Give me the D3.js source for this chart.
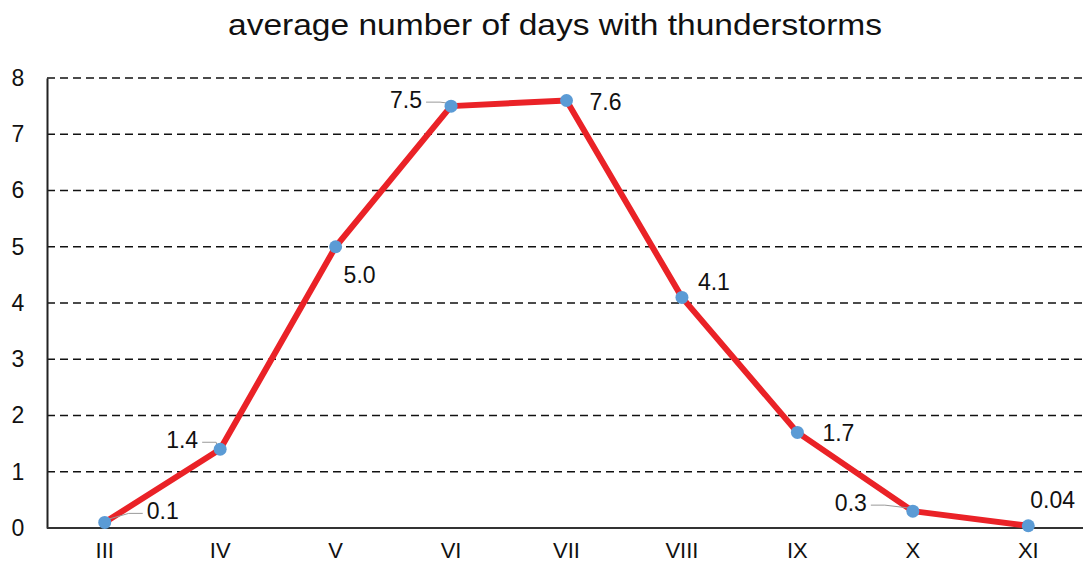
<!DOCTYPE html>
<html>
<head>
<meta charset="utf-8">
<script src="https://cdn.jsdelivr.net/npm/d3@7"></script>
<style>
  body { margin: 0; background: #fff; }
  svg { display: block; font-family: "Liberation Sans", Arial, sans-serif; }
</style>
</head>
<body>
<div id="chart"></div>
<script>
const months = ['III', 'IV', 'V', 'VI', 'VII', 'VIII', 'IX', 'X', 'XI']
const days = [0.1, 1.4, 5.0, 7.5, 7.6, 4.1, 1.7, 0.3, 0.04]
const dayLabels = ['0.1', '1.4', '5.0', '7.5', '7.6', '4.1', '1.7', '0.3', '0.04']
const yTicks = [0, 1, 2, 3, 4, 5, 6, 7, 8]

// label placement: dx, dy from point, anchor, leader line
const labelPos = [
  { dx: 42, dy: -11, anchor: 'start', leader: true },
  { dx: -22, dy: -9, anchor: 'end', leader: true },
  { dx: 8, dy: 28, anchor: 'start', leader: false },
  { dx: -29, dy: -6, anchor: 'end', leader: true },
  { dx: 23, dy: 1, anchor: 'start', leader: false },
  { dx: 16, dy: -15, anchor: 'start', leader: false },
  { dx: 25, dy: 1, anchor: 'start', leader: false },
  { dx: -46, dy: -8, anchor: 'end', leader: true },
  { dx: 2, dy: -26, anchor: 'start', leader: false }
]

const width = 1083, height = 570
const margin = { top: 78, right: 0, bottom: 42, left: 47 }

const svg = d3.select('#chart')
  .append('svg')
  .attr('width', width)
  .attr('height', height)

const x = d3.scaleBand()
  .domain(months)
  .range([margin.left, width - margin.right + 3])

const y = d3.scaleLinear()
  .domain([0, 8])
  .range([height - margin.bottom, margin.top])

svg.append('text')
  .attr('x', 228)
  .attr('y', 35)
  .attr('textLength', 654)
  .attr('lengthAdjust', 'spacingAndGlyphs')
  .attr('font-size', 30)
  .attr('fill', '#111')
  .text('average number  of days with thunderstorms')

// gridlines
svg.append('g')
  .selectAll('line')
  .data(yTicks.filter(d => d > 0))
  .enter()
  .append('line')
  .attr('x1', margin.left)
  .attr('x2', width)
  .attr('y1', d => y(d))
  .attr('y2', d => y(d))
  .attr('stroke', '#111')
  .attr('stroke-width', 1.6)
  .attr('stroke-dasharray', '8,5')

// y axis
const yAxis = svg.append('g')
  .attr('transform', `translate(${margin.left},0)`)
  .call(d3.axisLeft(y).tickValues(yTicks).tickSize(0).tickPadding(0).tickFormat(d3.format('d')))
yAxis.select('.domain').attr('stroke', '#222').attr('stroke-width', 2)
yAxis.selectAll('text')
  .attr('x', -29)
  .attr('text-anchor', 'middle')
  .attr('font-size', 23)
  .attr('fill', '#111')

// x axis
const xAxis = svg.append('g')
  .attr('transform', `translate(0,${y(0)})`)
  .call(d3.axisBottom(x).tickSize(0).tickPadding(14))
xAxis.select('.domain').attr('d', `M${margin.left},0H${width}`).attr('stroke', '#333').attr('stroke-width', 2)
xAxis.selectAll('text')
  .attr('font-size', 22)
  .attr('font-family', '"Liberation Sans", Arial, sans-serif')
  .attr('fill', '#111')

const cx = (d, i) => x(months[i]) + x.bandwidth() / 2

const line = d3.line()
  .x((d, i) => cx(d, i))
  .y(d => y(d))

svg.append('path')
  .datum(days)
  .attr('d', line)
  .attr('fill', 'none')
  .attr('stroke', '#ea2227')
  .attr('stroke-width', 6)
  .attr('stroke-linejoin', 'round')

// leader lines: short horizontal stub next to the label, then to the point
svg.append('g')
  .selectAll('polyline')
  .data(days.map((d, i) => ({ d, i })).filter(o => labelPos[o.i].leader))
  .enter()
  .append('polyline')
  .attr('points', o => {
    const p = labelPos[o.i]
    const px = cx(o.d, o.i), py = y(o.d)
    const sign = p.anchor === 'start' ? 1 : -1
    const tx = px + p.dx - sign * 4
    const ty = py + p.dy + 2
    const bx = tx - sign * 14
    return [[tx, ty], [bx, ty], [px + sign * 3, py - 3]].map(q => q.join(',')).join(' ')
  })
  .attr('fill', 'none')
  .attr('stroke', '#999')
  .attr('stroke-width', 1)

svg.append('g')
  .selectAll('circle')
  .data(days)
  .enter()
  .append('circle')
  .attr('cx', (d, i) => cx(d, i))
  .attr('cy', d => y(d))
  .attr('r', 6.5)
  .attr('fill', '#5b9bd5')

svg.append('g')
  .selectAll('text')
  .data(days)
  .enter()
  .append('text')
  .attr('x', (d, i) => cx(d, i) + labelPos[i].dx)
  .attr('y', (d, i) => y(d) + labelPos[i].dy)
  .attr('dy', '0.35em')
  .attr('text-anchor', (d, i) => labelPos[i].anchor)
  .attr('font-size', 23)
  .attr('fill', '#111')
  .text((d, i) => dayLabels[i])
</script>
</body>
</html>
